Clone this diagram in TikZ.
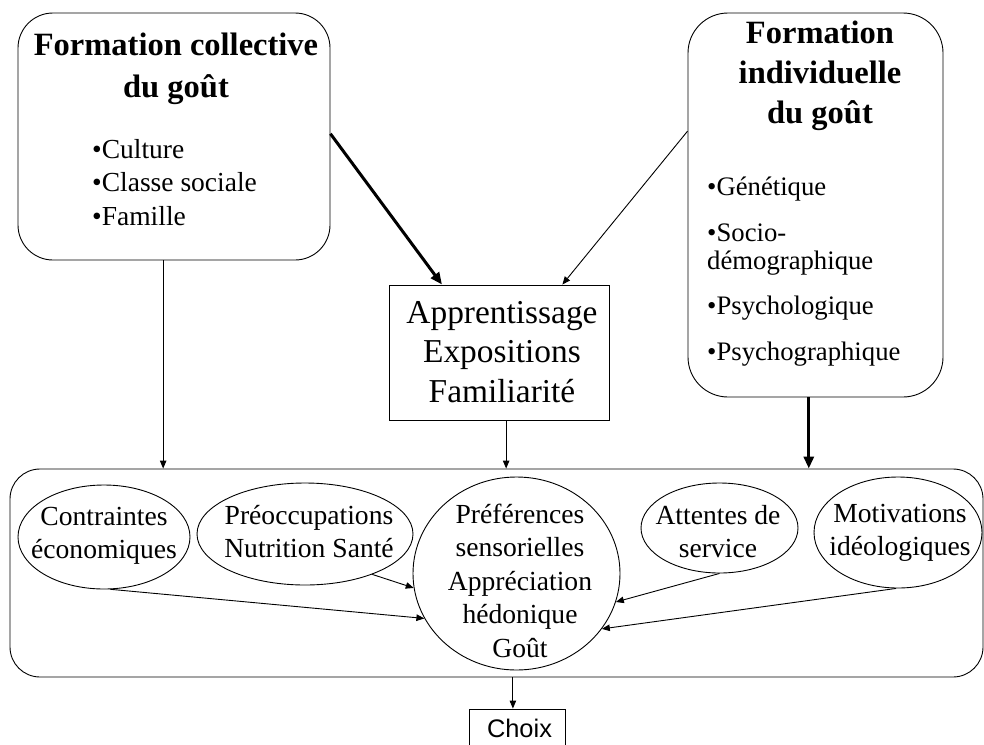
\documentclass[tikz,border=0pt]{standalone}
\usepackage{fontspec}
\setmainfont{Liberation Serif}
\newfontfamily\arialf{Liberation Sans}
\usetikzlibrary{arrows.meta,shapes.geometric}
\begin{document}
\begin{tikzpicture}[x=1pt,y=-1pt,
  shapebox/.style={draw, line width=0.9pt, inner sep=0pt},
  thinarrow/.style={line width=0.9pt, -{Triangle[length=8pt,width=6.5pt]}},
  thickarrow/.style={line width=3pt, -{Triangle[length=12pt,width=10pt]}},
  txt/.style={inner sep=0pt, anchor=base, align=center},
  txtl/.style={inner sep=0pt, anchor=base west, align=left}]
\useasboundingbox (0,0) rectangle (984,744);
% boxes
\node[shapebox, rounded corners=35pt, minimum width=312pt, minimum height=247pt] (LC) at (174,136.5) {};
\node[shapebox, rounded corners=40pt, minimum width=255pt, minimum height=384pt] (RC) at (815.5,205) {};
\node[shapebox, minimum width=220pt, minimum height=135pt] (AP) at (499,352.5) {};
\node[shapebox, rounded corners=30pt, minimum width=973pt, minimum height=208pt] (Big) at (496.5,573) {};
\node[shapebox, ellipse, minimum width=207pt, minimum height=193pt] (C) at (516.5,573.5) {};
\node[shapebox, ellipse, minimum width=172pt, minimum height=104pt] (E1) at (104,537) {};
\node[shapebox, ellipse, minimum width=216pt, minimum height=102pt] (E2) at (305,534) {};
\node[shapebox, ellipse, minimum width=157pt, minimum height=90pt] (E3) at (719.5,528) {};
\node[shapebox, ellipse, minimum width=168pt, minimum height=111pt] (E4) at (898,532.5) {};
\node[shapebox, minimum width=96pt, minimum height=51pt] (CH) at (517,734.5) {};
% texts (anchor = baseline of last line)
\node[txt, font=\bfseries\fontsize{32.5}{42}\selectfont] (tLC) at (176,97) {Formation collective\\du goût};
\node[txtl, font=\fontsize{27.5}{33.5}\selectfont] (bLC) at (92,225) {•Culture\\•Classe sociale\\•Famille};
\node[txt, font=\bfseries\fontsize{32.5}{40}\selectfont] (tRC) at (820,123) {Formation\\individuelle\\du goût};
\node[txtl, font=\fontsize{26.7}{28}\selectfont] (bRC) at (707,360) {•Génétique\\[17.5pt]•Socio-\\démographique\\[17.5pt]•Psychologique\\[17.5pt]•Psychographique};
\node[txt, font=\fontsize{33.4}{39.5}\selectfont] (tAP) at (502,402) {Apprentissage\\Expositions\\Familiarité};
\node[txt, font=\fontsize{27.6}{33.5}\selectfont] (tC) at (520,657) {Préférences\\sensorielles\\Appréciation\\hédonique\\Goût};
\node[txt, font=\fontsize{27.6}{33}\selectfont] (tE1) at (104,558) {Contraintes\\économiques};
\node[txt, font=\fontsize{27.6}{33}\selectfont] (tE2) at (309,557) {Préoccupations\\Nutrition Santé};
\node[txt, font=\fontsize{27.6}{33}\selectfont] (tE3) at (718,557) {Attentes de\\service};
\node[txt, font=\fontsize{27.6}{33}\selectfont] (tE4) at (900,555) {Motivations\\idéologiques};
\node[txt, font=\arialf\fontsize{25.4}{30}\selectfont] (tCH) at (519.5,737) {Choix};
% connectors
\draw[thinarrow] (LC.-95.5) -- (LC.-95.5 |- Big.north);
\draw[thickarrow] (LC.1.3) -- (AP.130.7);
\draw[thinarrow] (RC.150.5) -- (AP.47);
\draw[thinarrow] (AP.-84.9) -- (AP.-84.9 |- Big.north);
\draw[thickarrow] (RC.-92.2) -- (RC.-92.2 |- Big.north);
\draw[thinarrow] (E1.-83) -- (C.206.6);
\draw[thinarrow] (E2.-31) -- (C.188.3);
\draw[thinarrow] (E3.south) -- (C.-16.7);
\draw[thinarrow] (E4.-92) -- (C.-33);
\draw[thinarrow] (CH.99 |- Big.south) -- (CH.99);
\end{tikzpicture}
\end{document}
